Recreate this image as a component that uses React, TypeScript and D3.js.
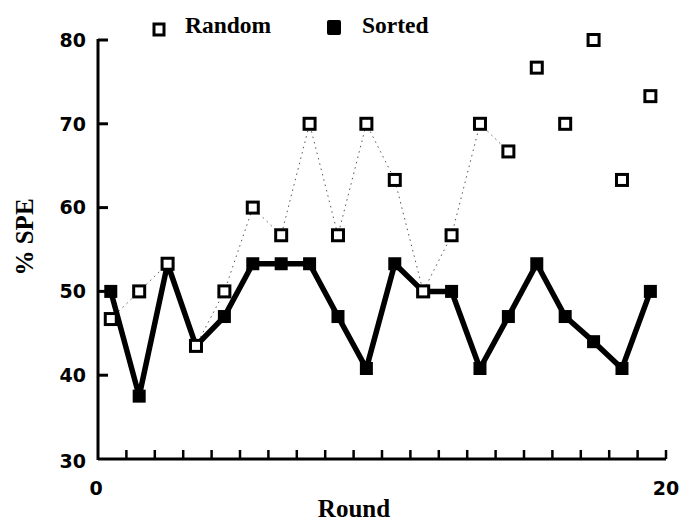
import * as d3 from 'd3'

const rounds = d3.range(20).map((i) => i + 0.45)
const randomSpe = [46.7, 50, 53.3, 43.5, 50, 60, 56.7, 70, 56.7, 70, 63.3, 50, 56.7, 70, 66.7, 76.7, 70, 80, 63.3, 73.3]
const sortedSpe = [50, 37.5, 53.3, 43.5, 47, 53.3, 53.3, 53.3, 47, 40.8, 53.3, 50, 50, 40.8, 47, 53.3, 47, 44, 40.8, 50]
const connectedRandom = 15 // dotted line joins the first 15 random points
const yTicks = [30, 40, 50, 60, 70, 80]
const xTicks = d3.range(1, 21)
const xLabels = [0, 20]

const W = 681
const H = 524
const serif = '"Liberation Serif", "Times New Roman", serif'
const sans = '"DejaVu Sans", sans-serif'

export default function App() {
  const x = d3.scaleLinear().domain([0, 20]).range([98, 666])
  const y = d3.scaleLinear().domain([30, 80]).range([459, 40])

  const line = d3.line<number>().x((_, i) => x(rounds[i])).y((d) => y(d))
  const randPts = randomSpe.slice(0, connectedRandom)
  const ms = 13

  return (
    <svg width={W} height={H} style={{ position: 'absolute', left: 0, top: 0, background: '#fff' }}>
      {/* axes */}
      <line x1={x(0)} x2={x(0)} y1={y(80) - 1} y2={y(30) + 1} stroke="#000" strokeWidth={3} />
      <line x1={x(0)} x2={x(20)} y1={y(30)} y2={y(30)} stroke="#000" strokeWidth={3} />
      {yTicks.slice(1).map((t) => (
        <line key={t} x1={x(0)} x2={x(0) + 10} y1={y(t)} y2={y(t)} stroke="#000" strokeWidth={3} />
      ))}
      {yTicks.map((t) => (
        <text key={'l' + t} x={x(0) - 12} y={t === 30 ? y(t) + 2 : y(t)} dy="0.36em" textAnchor="end" fontFamily={sans} fontSize={19} fontWeight="bold">
          {t}
        </text>
      ))}
      {xTicks.map((t) => (
        <line key={t} x1={x(t)} x2={x(t)} y1={y(30)} y2={y(30) - 9} stroke="#000" strokeWidth={2.5} />
      ))}
      {xLabels.map((t) => (
        <text key={t} x={t === 0 ? x(t) - 2 : x(t)} y={495} textAnchor="middle" fontFamily={sans} fontSize={19} fontWeight="bold">
          {t}
        </text>
      ))}
      <text x={354} y={517} textAnchor="middle" fontFamily={serif} fontSize={25} fontWeight="bold">
        Round
      </text>
      <text transform="translate(33,237) rotate(-90)" textAnchor="middle" fontFamily={serif} fontSize={25} fontWeight="bold">
        % SPE
      </text>

      {/* random: dotted link */}
      <path d={line(randPts) ?? ''} fill="none" stroke="#555" strokeWidth={1} strokeDasharray="1.5 4" />
      {/* sorted line */}
      <path d={line(sortedSpe) ?? ''} fill="none" stroke="#000" strokeWidth={5.5} strokeLinejoin="round" />
      {sortedSpe.map((v, i) => (
        <rect key={'s' + i} x={x(rounds[i]) - ms / 2} y={y(v) - ms / 2} width={ms} height={ms} fill="#000" />
      ))}
      {randomSpe.map((v, i) => (
        <rect key={'r' + i} x={x(rounds[i]) - 5.5} y={y(v) - 5.5} width={11} height={11} fill="#fff" stroke="#000" strokeWidth={3} />
      ))}

      {/* legend */}
      <rect x={154} y={24} width={10} height={11} fill="#fff" stroke="#000" strokeWidth={3} />
      <text x={185} y={33} fontFamily={serif} fontSize={23.5} fontWeight="bold">Random</text>
      <rect x={327} y={20} width={14} height={15} fill="#000" rx={2} />
      <text x={362} y={33} fontFamily={serif} fontSize={23.5} fontWeight="bold">Sorted</text>
    </svg>
  )
}
